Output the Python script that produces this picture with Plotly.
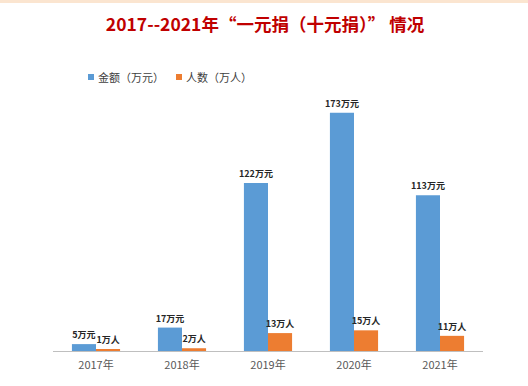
import plotly.graph_objects as go

years = ["2017年", "2018年", "2019年", "2020年", "2021年"]
amount = [5, 17, 122, 173, 113]
people = [1, 2, 13, 15, 11]
amount_labels = [f"{v}万元" for v in amount]
people_labels = [f"{v}万人" for v in people]
legend_names = ["金额（万元）", "人数（万人）"]
colors = ["#5B9BD5", "#ED7D31"]

FONT = "Noto Sans CJK SC, Microsoft YaHei, sans-serif"
W, H = 528, 386
L, R, T, B = 53, 45, 103, 35
PW, PH = W - L - R, H - T - B


def px_x(x):
    return (x - L) / PW


def px_y(y):
    return (H - B - y) / PH


fig = go.Figure()
for vals, labels, name, col in [(amount, amount_labels, legend_names[0], colors[0]),
                                (people, people_labels, legend_names[1], colors[1])]:
    fig.add_trace(go.Bar(
        x=years, y=vals, name=name, showlegend=False,
        marker=dict(color=col, line=dict(width=0)),
        text=labels, textposition="outside", cliponaxis=False,
        textfont=dict(size=9, color="#262626", family=FONT, weight="bold"),
    ))

shapes = [dict(
    type="rect", xref="paper", yref="paper",
    x0=px_x(0), x1=px_x(W), y0=px_y(3), y1=px_y(-1),
    fillcolor="#FBE5D0", line=dict(width=0), layer="below",
)]
annotations = []
legend_pos = [88, 176]
for xs, name, col in zip(legend_pos, legend_names, colors):
    shapes.append(dict(
        type="rect", xref="paper", yref="paper",
        x0=px_x(xs), x1=px_x(xs + 6), y0=px_y(80), y1=px_y(74),
        fillcolor=col, line=dict(width=0),
    ))
    annotations.append(dict(
        text=name, xref="paper", yref="paper", x=px_x(xs + 8), y=px_y(77),
        xanchor="left", yanchor="middle", showarrow=False,
        font=dict(size=11, color="#404040", family=FONT),
    ))

fig.update_layout(
    width=W, height=H,
    margin=dict(l=L, r=R, t=T, b=B),
    paper_bgcolor="white", plot_bgcolor="rgba(0,0,0,0)",
    barmode="group", bargap=0.44, bargroupgap=0,
    uniformtext=dict(minsize=9, mode="show"),
    font=dict(family=FONT, color="#595959"),
    title=dict(
        text="2017--2021年“一元捐（十元捐）” 情况",
        x=px_x(265), xref="paper", xanchor="center",
        y=1 - 25 / H, yanchor="middle",
        font=dict(size=17.5, color="#C00000", family=FONT, weight="bold"),
    ),
    xaxis=dict(
        showline=True, linecolor="#BFBFBF", linewidth=1,
        ticks="", tickfont=dict(size=11, color="#595959", family=FONT),
        ticklabelstandoff=4, showgrid=False,
    ),
    yaxis=dict(range=[0, 180], visible=False, showgrid=False),
    shapes=shapes,
    annotations=annotations,
)

fig.write_html("out.html", config={"displayModeBar": False},
               post_script="document.body.style.margin='0';document.body.style.overflow='hidden';")
